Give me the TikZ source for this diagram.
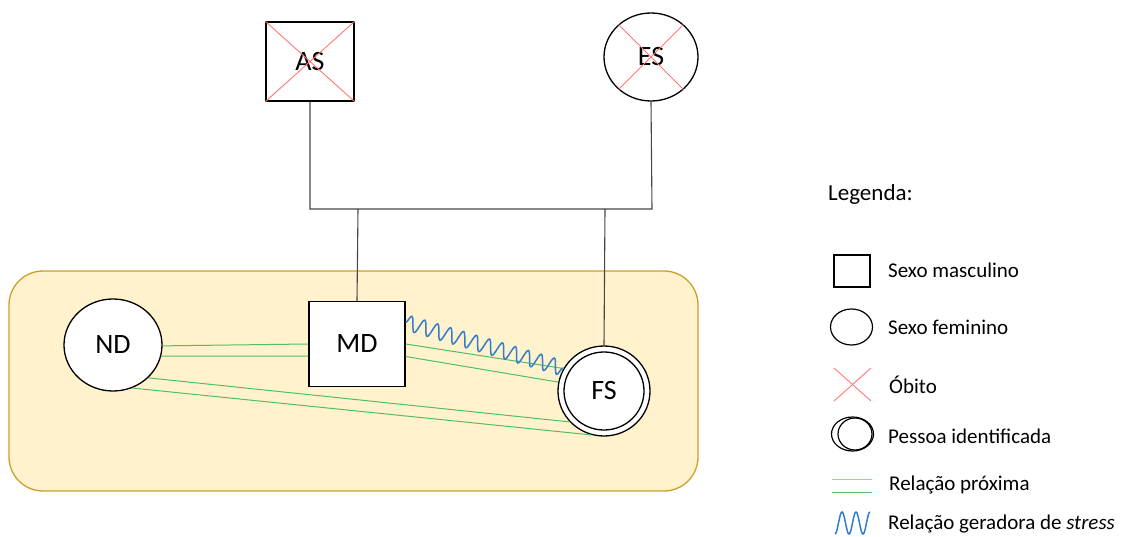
\documentclass[tikz,border=0pt]{standalone}
\usepackage{fontspec}
\setmainfont{Carlito}
\usetikzlibrary{shapes.geometric,decorations.pathmorphing,calc}
\definecolor{boxfill}{RGB}{255,242,204}
\definecolor{boxline}{RGB}{204,160,40}
\definecolor{xred}{RGB}{255,120,120}
\definecolor{relgreen}{RGB}{80,190,100}
\definecolor{relgreenlt}{RGB}{140,215,155}
\definecolor{stressblue}{RGB}{50,125,205}
\definecolor{linkgray}{RGB}{70,70,70}
\tikzset{
  person/.style={draw=black, line width=1.3pt, fill=white, inner sep=0pt, font=\fontsize{28}{30}\selectfont},
  male/.style={person, rectangle},
  female/.style={person, ellipse},
  death/.style={draw=xred, line width=0.9pt},
  link/.style={draw=linkgray, line width=1.1pt},
  close/.style={draw=relgreen, line width=1pt},
  stressrel/.style={draw=stressblue, line width=1.5pt, decorate, decoration={snake, segment length=13.5pt, amplitude=7.5pt}},
  legtext/.style={anchor=west, inner sep=0pt, font=\fontsize{21}{24}\selectfont},
  legicon/.style={draw=black, line width=1.2pt, inner sep=0pt}
}
\begin{document}
\begin{tikzpicture}[x=1pt, y=-1pt]
\useasboundingbox (0,0) rectangle (1127,537);
% family box
\draw[draw=boxline, fill=boxfill, line width=1.3pt, rounded corners=34pt] (9,271) rectangle (698,491);
% grandparents
\node[male, minimum width=88pt, minimum height=79pt] (AS) at (310,61.5) {AS};
\node[female, minimum width=94pt, minimum height=88pt] (ES) at (651,57) {ES};
\draw[death] (AS.north west) -- (AS.south east);
\draw[death] (AS.north east) -- (AS.south west);
\draw[death] (ES.45) -- (ES.225);
\draw[death] (ES.135) -- (ES.315);
% household
\node[female, minimum width=98pt, minimum height=92pt] (ND) at (113,345) {ND};
\node[male, minimum width=96pt, minimum height=85pt] (MD) at (357,344) {MD};
\node[female, minimum width=92pt, minimum height=90pt] (FS) at (604,391) {};
\node[female, minimum width=80pt, minimum height=78pt] (FSi) at (604,391) {FS};
% parental links
\coordinate (jl) at (310,209);
\coordinate (jr) at (652,209);
\coordinate (jm) at (358,209);
\coordinate (jf) at (605,209);
\draw[link] (AS.south) -- (jl) -- (jr) -- (ES.south);
\draw[link] (jm) -- (MD.north);
\draw[link] (jf) -- (FS.north);
% close relations
\draw[close] (ND.-1) -- (MD.west);
\draw[close] (ND.-13) -- ($(MD.west)+(0,12)$);
\draw[close] (MD.east) -- (FS.151);
\draw[close] ($(MD.east)+(0,12.5)$) -- (FS.169);
\draw[close] (ND.-43) -- (FS.222);
\draw[close] (ND.-66) -- (FS.254);
% stress relation
\draw[stressrel] (MD.24) -- (FS.151);
% legend
\node[legtext, font=\fontsize{23}{26}\selectfont] (leg) at (828,194) {Legenda:};
\node[legicon, rectangle, minimum width=36pt, minimum height=32pt] (lsq) at (852,271) {};
\node[legtext] (tsq) at (888,270) {Sexo masculino};
\node[legicon, ellipse, minimum width=42pt, minimum height=36pt] (lci) at (851.5,327) {};
\node[legtext] (tci) at (888,327) {Sexo feminino};
\coordinate (xa) at (834,368);
\coordinate (xb) at (871,401);
\coordinate (xc) at (871,368);
\coordinate (xd) at (834,401);
\draw[death] (xa) -- (xb);
\draw[death] (xc) -- (xd);
\node[legtext] (tx) at (889,385) {Óbito};
\node[legicon, ellipse, minimum width=42pt, minimum height=34pt] (ldo) at (852.5,434) {};
\node[legicon, ellipse, minimum width=34pt, minimum height=32pt] (ldi) at (855,434) {};
\node[legtext] (tdo) at (888,436) {Pessoa identificada};
\coordinate (ga) at (832,479);
\coordinate (gb) at (872,479);
\coordinate (gc) at (832,492);
\coordinate (gd) at (872,492);
\draw[draw=relgreenlt, line width=1pt] (ga) -- (gb);
\draw[close] (gc) -- (gd);
\node[legtext] (tg) at (889,485) {Relação próxima};
\draw[draw=stressblue, line width=1.5pt, domain=0:1, samples=80, smooth] plot ({835+35*\x},{523+11*cos(900*\x)});
\node[legtext] (tw) at (888,524) {Relação geradora de \textit{stress}};
\end{tikzpicture}
\end{document}
